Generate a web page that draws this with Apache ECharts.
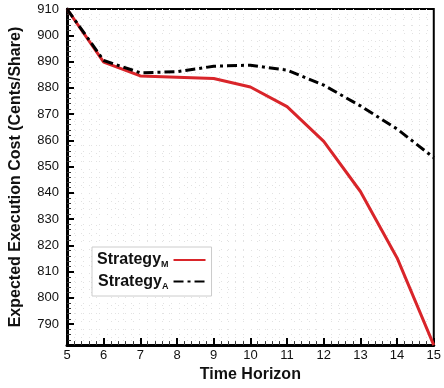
<!DOCTYPE html>
<html>
<head>
<meta charset="utf-8">
<script src="https://cdn.jsdelivr.net/npm/echarts@6/dist/echarts.min.js"></script>
<style>
  html, body { margin: 0; padding: 0; background: #fff; }
  #chart { width: 444px; height: 388px; }
</style>
</head>
<body>
<div id="chart"></div>
<script>
// 数据
var horizon = [5, 6, 7, 8, 9, 10, 11, 12, 13, 14, 15];
var costM = [910, 889.8, 884.5, 884.0, 883.5, 880.3, 872.8, 859.6, 840.5, 815.2, 782];
var costA = [910, 890.4, 885.7, 886.1, 888.2, 888.6, 886.7, 881.0, 873.1, 864.3, 853.4];

function pairs(xs, ys) {
    return xs.map(function (x, i) { return [x, ys[i]]; });
}

var font = '"Liberation Sans", Arial, sans-serif';

var option = {
    animation: false,
    backgroundColor: '#fff',
    grid: {
        left: 65, right: 6, top: 9, bottom: 39,
        show: true, borderColor: '#000', borderWidth: 2
    },
    legend: {
        left: 92, top: 247,
        orient: 'vertical',
        align: 'right',
        itemWidth: 32, itemHeight: 10, itemGap: 4,
        padding: [5, 5, 5, 5],
        backgroundColor: '#fff',
        borderColor: '#ccc', borderWidth: 1,
        itemStyle: { opacity: 0 },
        textStyle: {
            fontFamily: font, fontWeight: 'bold', fontSize: 16, color: '#111',
            rich: {
                a: { fontFamily: font, fontWeight: 'bold', fontSize: 16, color: '#111' },
                s: { fontFamily: font, fontWeight: 'bold', fontSize: 9, color: '#111', padding: [10, 0, 0, 0] }
            }
        },
        formatter: function (name) {
            return '{a|Strategy}{s|' + name.slice(-1) + '}';
        },
        data: ['StrategyM', 'StrategyA']
    },
    xAxis: {
        type: 'value',
        min: 5, max: 15, interval: 1,
        name: 'Time Horizon', nameLocation: 'middle', nameGap: 19,
        nameTextStyle: { fontFamily: font, fontWeight: 'bold', fontSize: 16, color: '#111' },
        axisLine: { lineStyle: { color: '#000', width: 3 } },
        axisTick: { inside: true, length: 7, lineStyle: { color: '#000', width: 2 } },
        minorTick: { show: true, splitNumber: 5, length: 4, lineStyle: { color: '#333', width: 1 } },
        axisLabel: { fontFamily: font, fontSize: 13, color: '#111', margin: 4 },
        splitLine: { show: false },
        minorSplitLine: { show: true, lineStyle: { color: '#e2e2e2', type: [1, 7], width: 1 } }
    },
    yAxis: {
        type: 'value',
        min: 782, max: 910, splitNumber: 13,
        name: 'Expected Execution Cost (Cents/Share)', nameLocation: 'middle', nameGap: 43,
        nameTextStyle: { fontFamily: font, fontWeight: 'bold', fontSize: 16, color: '#111' },
        axisLine: { lineStyle: { color: '#000', width: 3 } },
        axisTick: { inside: true, length: 7, lineStyle: { color: '#000', width: 2 } },
        minorTick: { show: true, splitNumber: 5, length: 4, lineStyle: { color: '#333', width: 1 } },
        axisLabel: { fontFamily: font, fontSize: 13, color: '#111', margin: 8, showMinLabel: false },
        splitLine: { show: false },
        minorSplitLine: { show: true, lineStyle: { color: '#e2e2e2', type: [1, 7], width: 1 } }
    },
    series: [
        {
            name: 'StrategyM', type: 'line',
            data: pairs(horizon, costM),
            symbol: 'none', z: 3,
            lineStyle: { color: '#d9252a', width: 3 },
            itemStyle: { color: '#d9252a' }
        },
        {
            name: 'StrategyA', type: 'line',
            data: pairs(horizon, costA),
            symbol: 'none', z: 4,
            lineStyle: { color: '#000', width: 3, type: [10, 4, 3, 4] },
            itemStyle: { color: '#000' }
        }
    ]
};

var myChart = echarts.init(document.getElementById('chart'));
myChart.setOption(option);
</script>
</body>
</html>
